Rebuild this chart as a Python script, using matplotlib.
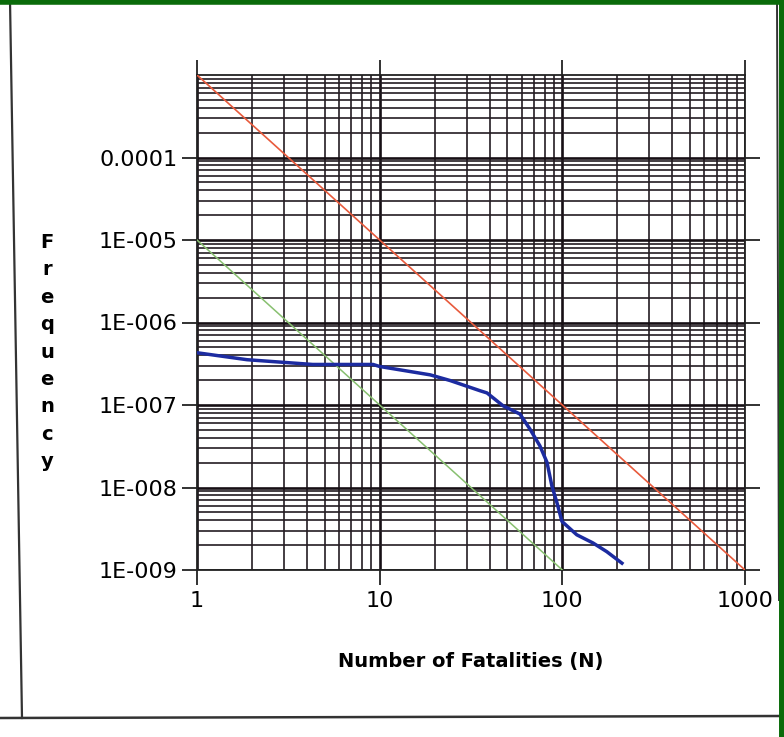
import numpy as np
import matplotlib
matplotlib.use('Agg')
import matplotlib.pyplot as plt
from matplotlib.ticker import FixedLocator, FixedFormatter, NullFormatter, LogLocator
from matplotlib.lines import Line2D

# F-N curve
fn_n = [1, 1.88, 4.3, 9.2, 10, 18.9, 24.3, 35.4, 38.7, 47.3, 58.6, 66.5,
        75.4, 82.4, 87.7, 93.4, 99.5, 120, 147, 175, 212]
fn_freq = [4.3e-7, 3.54e-7, 3.1e-7, 3.1e-7, 2.93e-7, 2.32e-7, 1.98e-7, 1.49e-7,
           1.4e-7, 9.8e-8, 7.77e-8, 5.1e-8, 3.19e-8, 2.02e-8, 1.04e-8, 6.56e-9,
           3.88e-9, 2.67e-9, 2.13e-9, 1.67e-9, 1.21e-9]

# criterion lines (end points)
upper_n = [1, 1000]
upper_freq = [1e-3, 1e-9]
lower_n = [1, 100]
lower_freq = [1e-5, 1e-9]

x_ticks = [1, 10, 100, 1000]
x_labels = ['1', '10', '100', '1000']
y_ticks = [1e-9, 1e-8, 1e-7, 1e-6, 1e-5, 1e-4]
y_labels = ['1E-009', '1E-008', '1E-007', '1E-006', '1E-005', '0.0001']

plt.rcParams['font.family'] = ['DejaVu Sans']

fig = plt.figure(figsize=(7.84, 7.37), dpi=100)
ax = fig.add_axes([197 / 784, 1 - 570 / 737, 548 / 784, 495 / 737])

ax.plot(upper_n, upper_freq, color='#e85a3c', lw=1.2, zorder=3)
ax.plot(lower_n, lower_freq, color='#88c070', lw=1.1, zorder=3)
ax.plot(fn_n, fn_freq, color='#1c2ba0', lw=2.5, zorder=4)

ax.set_xscale('log')
ax.set_yscale('log')
ax.set_xlim(1, 1000)
ax.set_ylim(1e-9, 1e-3)

ax.xaxis.set_major_locator(FixedLocator(x_ticks))
ax.xaxis.set_major_formatter(FixedFormatter(x_labels))
ax.yaxis.set_major_locator(FixedLocator(y_ticks))
ax.yaxis.set_major_formatter(FixedFormatter(y_labels))
ax.xaxis.set_minor_locator(LogLocator(base=10, subs=np.arange(2, 10)))
ax.yaxis.set_minor_locator(LogLocator(base=10, subs=np.arange(2, 10), numticks=20))
ax.xaxis.set_minor_formatter(NullFormatter())
ax.yaxis.set_minor_formatter(NullFormatter())

ax.grid(which='major', color='#160f14', lw=1.9)
ax.grid(which='minor', color='#241c22', lw=1.2)
ax.set_axisbelow(True)

ax.tick_params(which='major', direction='out', length=11, width=1.3,
               labelsize=16, color='#222222', top=True, right=True, pad=3)
ax.tick_params(axis='x', which='major', pad=4)
ax.tick_params(which='minor', length=0)
for s in ax.spines.values():
    s.set_color('#222222')
    s.set_linewidth(1.3)

ax.set_xlabel('Number of Fatalities (N)', fontsize=14, fontweight='bold', labelpad=30)

fig.text(47 / 784, 1 - 352 / 737, '\n'.join('Frequency'), fontsize=14,
         fontweight='bold', ha='center', va='center', linespacing=1.56)

# scan frame: black rules and green border
W, H = 784, 737
def px_line(x0, y0, x1, y1, color, lw):
    fig.add_artist(Line2D([x0 / W, x1 / W], [1 - y0 / H, 1 - y1 / H],
                          transform=fig.transFigure, color=color, lw=lw))

px_line(10, 0, 22, 718, '#333333', 1.6)
px_line(0, 718, 782, 716, '#333333', 1.8)
px_line(777, 0, 779, 600, '#333333', 1.4)
px_line(0, 1.5, W, 1.5, '#0a6b0a', 4)
px_line(781.5, 0, 781.5, H, '#0a6b0a', 5)

fig.savefig('out.png', dpi=100)
